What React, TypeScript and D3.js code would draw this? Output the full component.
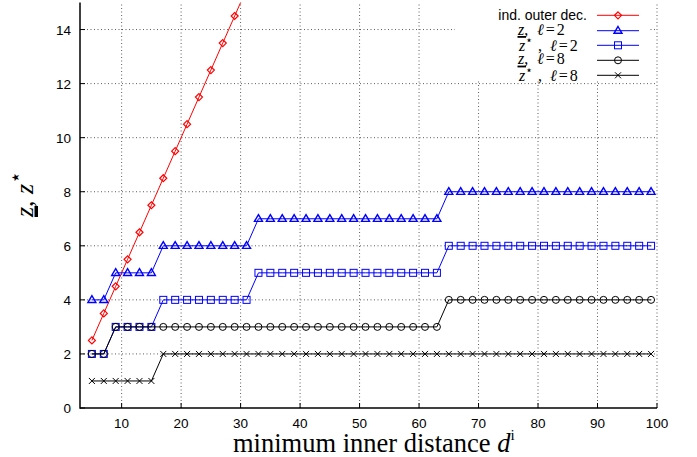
import React from 'react';
import * as d3 from 'd3';

const xsAll = [5, 7, 9, 11, 13, 15, 17, 19, 21, 23, 25, 27, 29, 31, 33, 35, 37, 39, 41, 43, 45, 47, 49, 51, 53, 55, 57, 59, 61, 63, 65, 67, 69, 71, 73, 75, 77, 79, 81, 83, 85, 87, 89, 91, 93, 95, 97, 99];
const xsRed = [5, 7, 9, 11, 13, 15, 17, 19, 21, 23, 25, 27, 29, 31];
const redVals = [2.5, 3.5, 4.5, 5.5, 6.5, 7.5, 8.5, 9.5, 10.5, 11.5, 12.5, 13.5, 14.5, 15.5];
const triVals = [4, 4, 5, 5, 5, 5, 6, 6, 6, 6, 6, 6, 6, 6, 7, 7, 7, 7, 7, 7, 7, 7, 7, 7, 7, 7, 7, 7, 7, 7, 8, 8, 8, 8, 8, 8, 8, 8, 8, 8, 8, 8, 8, 8, 8, 8, 8, 8];
const sqVals = [2, 2, 3, 3, 3, 3, 4, 4, 4, 4, 4, 4, 4, 4, 5, 5, 5, 5, 5, 5, 5, 5, 5, 5, 5, 5, 5, 5, 5, 5, 6, 6, 6, 6, 6, 6, 6, 6, 6, 6, 6, 6, 6, 6, 6, 6, 6, 6];
const circVals = [2, 2, 3, 3, 3, 3, 3, 3, 3, 3, 3, 3, 3, 3, 3, 3, 3, 3, 3, 3, 3, 3, 3, 3, 3, 3, 3, 3, 3, 3, 4, 4, 4, 4, 4, 4, 4, 4, 4, 4, 4, 4, 4, 4, 4, 4, 4, 4];
const crossVals = [1, 1, 1, 1, 1, 1, 2, 2, 2, 2, 2, 2, 2, 2, 2, 2, 2, 2, 2, 2, 2, 2, 2, 2, 2, 2, 2, 2, 2, 2, 2, 2, 2, 2, 2, 2, 2, 2, 2, 2, 2, 2, 2, 2, 2, 2, 2, 2];
const xTicks = [10, 20, 30, 40, 50, 60, 70, 80, 90, 100];
const yTicks = [0, 2, 4, 6, 8, 10, 12, 14];
const ellValues = ['2', '2', '8', '8'];

type Marker = 'diamond' | 'triangle' | 'square' | 'circle' | 'cross';

const W = 697, H = 457;
const x = d3.scaleLinear().domain([3, 100]).range([80, 657]);
const y = d3.scaleLinear().domain([0, 15]).range([408, 2.5]);

function MarkerShape({ type, cx, cy, color }: { type: Marker; cx: number; cy: number; color: string }) {
  const sw = 1;
  switch (type) {
    case 'diamond':
      return <path d={`M${cx},${cy - 3.5}L${cx + 3.5},${cy}L${cx},${cy + 3.5}L${cx - 3.5},${cy}Z`} fill="none" stroke={color} strokeWidth={1.2} />;
    case 'triangle':
      return <path d={`M${cx},${cy - 4.2}L${cx + 4},${cy + 2.6}L${cx - 4},${cy + 2.6}Z`} fill="none" stroke={color} strokeWidth={1.4} />;
    case 'square':
      return <rect x={cx - 3.5} y={cy - 3.5} width={7} height={7} fill="none" stroke={color} strokeWidth={sw} />;
    case 'circle':
      return <circle cx={cx} cy={cy} r={3.5} fill="none" stroke={color} strokeWidth={sw} />;
    case 'cross':
      return <path d={`M${cx - 3},${cy - 3}L${cx + 3},${cy + 3}M${cx - 3},${cy + 3}L${cx + 3},${cy - 3}`} stroke={color} strokeWidth={sw} />;
  }
}

const series: { xs: number[]; vals: number[]; color: string; marker: Marker }[] = [
  { xs: xsRed, vals: redVals, color: '#ff0000', marker: 'diamond' },
  { xs: xsAll, vals: triVals, color: '#0000ff', marker: 'triangle' },
  { xs: xsAll, vals: sqVals, color: '#0000ff', marker: 'square' },
  { xs: xsAll, vals: circVals, color: '#000000', marker: 'circle' },
  { xs: xsAll, vals: crossVals, color: '#000000', marker: 'cross' },
];

const line = d3.line<[number, number]>().x(d => x(d[0])).y(d => y(d[1]));

const serif = '"Liberation Serif", "DejaVu Serif", serif';
const sans = '"Liberation Sans", Arial, sans-serif';
const starFont = '"DejaVu Sans", sans-serif';

export default function App() {
  const [x0, x1] = x.range();
  const [y0, y1] = y.range();
  const legendRows = [15.3, 30.7, 45.3, 60.3, 75.3];
  return (
    <div style={{ position: 'fixed', left: 0, top: 0 }}>
      <svg width={W} height={H} viewBox={`0 0 ${W} ${H}`} style={{ display: 'block', background: '#fff' }}>
        <defs>
          <clipPath id="plot">
            <rect x={x0} y={y1} width={x1 - x0 + 6} height={y0 - y1} />
          </clipPath>
        </defs>
        {/* grid */}
        <g stroke="#000" strokeWidth={0.8} strokeDasharray="1,2.5" opacity={0.8}>
          {xTicks.map(t => (
            <line key={'gx' + t} x1={x(t)} x2={x(t)} y1={y0} y2={y1} />
          ))}
          {yTicks.filter(t => t > 0).map(t => (
            <line key={'gy' + t} x1={x0} x2={x1} y1={y(t)} y2={y(t)} />
          ))}
        </g>
        {/* data */}
        <g clipPath="url(#plot)">
          {series.map((s, i) => {
            const pts = s.xs.map((xx, j) => [xx, s.vals[j]] as [number, number]);
            return (
              <g key={i}>
                <path d={line(pts) || ''} fill="none" stroke={s.color} strokeWidth={1} />
                {pts.map((p, j) => (
                  <MarkerShape key={j} type={s.marker} cx={x(p[0])} cy={y(p[1])} color={s.color} />
                ))}
              </g>
            );
          })}
        </g>
        {/* axes */}
        <g stroke="#000" strokeWidth={1.5} fill="none">
          <line x1={x0} x2={x0} y1={y0 + 0.75} y2={y1} />
          <line x1={x0} x2={x1} y1={y0} y2={y0} />
        </g>
        <g stroke="#000" strokeWidth={1}>
          {xTicks.map(t => (
            <line key={'tx' + t} x1={x(t)} x2={x(t)} y1={y0} y2={y0 - 5} />
          ))}
          {yTicks.map(t => (
            <line key={'ty' + t} x1={x0} x2={x0 + 5} y1={y(t)} y2={y(t)} />
          ))}
        </g>
        <g fontFamily={sans} fontSize={13.5} fill="#000">
          {xTicks.map(t => (
            <text key={'lx' + t} x={x(t)} y={428} textAnchor="middle">{t}</text>
          ))}
          {yTicks.map(t => (
            <text key={'ly' + t} x={71} y={y(t) + 5} textAnchor="end">{t}</text>
          ))}
        </g>
        {/* x label */}
        <text x={233} y={452} fontFamily={serif} fontSize={26.5} fill="#000">
          minimum inner distance <tspan fontStyle="italic">d</tspan>
          <tspan fontSize={15} dy={-12}>i</tspan>
        </text>
        {/* y label */}
        <g transform="translate(33,217) rotate(-90)">
          <text x={0} y={0} fontFamily={serif} fontSize={26} fill="#000">
            <tspan fontStyle="italic">z</tspan>
            <tspan>, </tspan>
            <tspan fontStyle="italic">z</tspan>
            <tspan fontFamily={starFont} fontSize={20} dy={-11}>⋆</tspan>
          </text>
          <rect x={0} y={1.5} width={11} height={3.5} fill="#000" />
        </g>
        {/* legend */}
        <rect x={455} y={2} width={193} height={79} fill="#fff" />
        {series.map((s, i) => (
          <g key={'lg' + i}>
            <line x1={597} x2={639} y1={legendRows[i]} y2={legendRows[i]} stroke={s.color} strokeWidth={1} />
            <MarkerShape type={s.marker} cx={618} cy={legendRows[i]} color={s.color} />
          </g>
        ))}
        <text x={587} y={20} textAnchor="end" fontFamily={sans} fontSize={14} fill="#000">ind. outer dec.</text>
        {[1, 3].map(i => (
          <g key={'lz' + i} fontFamily={serif} fontSize={16} fill="#000">
            <text x={518} y={legendRows[i] + 4}>
              <tspan fontStyle="italic">z</tspan>
              <tspan>,</tspan>
            </text>
            <rect x={517.5} y={legendRows[i] + 5.3} width={8.5} height={1.8} fill="#000" />
            <text x={537} y={legendRows[i] + 4}>
              <tspan fontStyle="italic">ℓ</tspan>
              <tspan dx={2}>=</tspan>
              <tspan dx={2}>{ellValues[i - 1]}</tspan>
            </text>
          </g>
        ))}
        {[2, 4].map(i => (
          <g key={'ls' + i} fontFamily={serif} fontSize={16} fill="#000">
            <text x={519} y={legendRows[i] + 5.5}>
              <tspan fontStyle="italic">z</tspan>
              <tspan fontFamily={starFont} fontSize={12} dy={-7}>⋆</tspan>
            </text>
            <text x={538} y={legendRows[i] + 5.5}>,</text>
            <text x={550} y={legendRows[i] + 5.5}>
              <tspan fontStyle="italic">ℓ</tspan>
              <tspan dx={2}>=</tspan>
              <tspan dx={2}>{ellValues[i - 1]}</tspan>
            </text>
          </g>
        ))}
      </svg>
    </div>
  );
}
